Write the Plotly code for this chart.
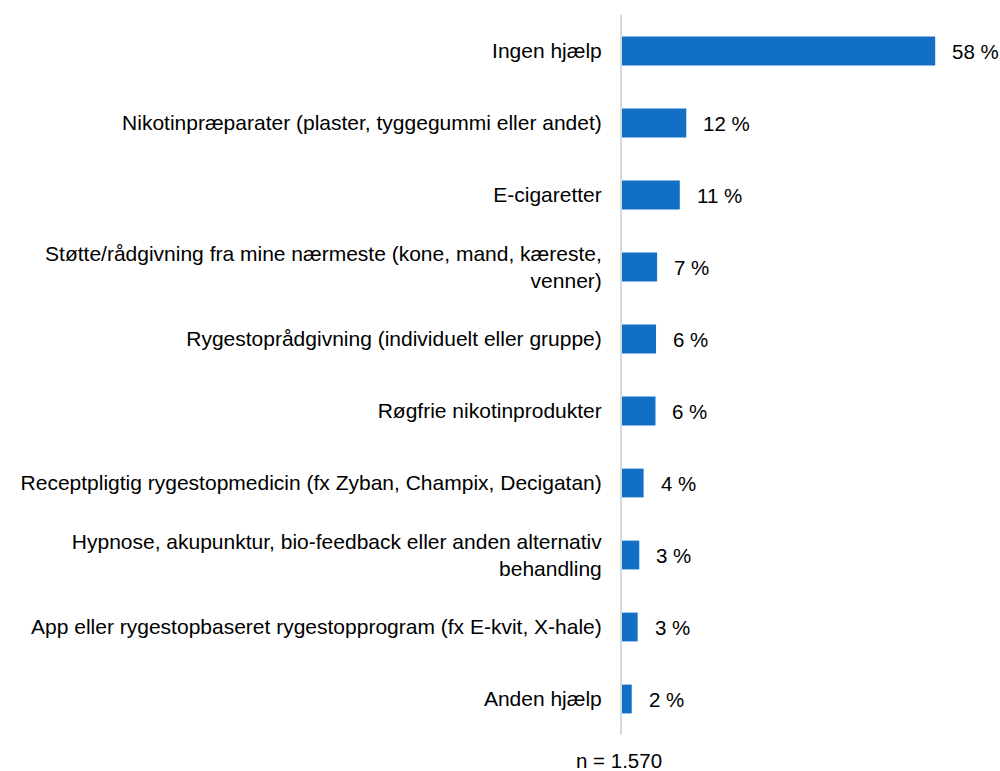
import plotly.graph_objects as go

categories = [
    "Ingen hjælp",
    "Nikotinpræparater (plaster, tyggegummi eller andet)",
    "E-cigaretter",
    "Støtte/rådgivning fra mine nærmeste (kone, mand, kæreste,<br>venner)",
    "Rygestoprådgivning (individuelt eller gruppe)",
    "Røgfrie nikotinprodukter",
    "Receptpligtig rygestopmedicin (fx Zyban, Champix, Decigatan)",
    "Hypnose, akupunktur, bio-feedback eller anden alternativ<br>behandling",
    "App eller rygestopbaseret rygestopprogram (fx E-kvit, X-hale)",
    "Anden hjælp",
]
values = [58.0, 11.9, 10.7, 6.5, 6.3, 6.2, 4.0, 3.2, 2.9, 1.8]
labels = ["58 %", "12 %", "11 %", "7 %", "6 %", "6 %", "4 %", "3 %", "3 %", "2 %"]
note = "n = 1.570"

FONT = "Liberation Sans, Arial, sans-serif"
FS = 21
FS_VAL = 20.5

fig = go.Figure(
    go.Bar(
        x=values,
        y=categories,
        orientation="h",
        marker=dict(color="#1170C6", line=dict(width=0)),
        width=0.4,
        hoverinfo="skip",
    )
)

for v, c, t in zip(values, categories, labels):
    fig.add_annotation(
        x=v, y=c, text=t, xanchor="left", yanchor="middle",
        xshift=15, showarrow=False,
        font=dict(family=FONT, size=FS_VAL, color="#000000"),
    )

fig.add_annotation(
    x=-0.007, y=-0.036, xref="paper", yref="paper", text=note,
    xanchor="center", yanchor="middle", showarrow=False,
    font=dict(family=FONT, size=FS_VAL, color="#000000"),
)

fig.update_layout(
    width=1000, height=771,
    margin=dict(l=622, r=0, t=15, b=36),
    paper_bgcolor="white", plot_bgcolor="white",
    showlegend=False,
    font=dict(family=FONT, size=FS, color="#000000"),
    xaxis=dict(range=[0, 70], showgrid=False, zeroline=False, showticklabels=False,
               showline=False, ticks=""),
    yaxis=dict(autorange="reversed", showgrid=False, zeroline=False, ticks="",
               showline=True, linecolor="#D9D9D9", linewidth=2,
               ticklabelstandoff=14,
               tickfont=dict(family=FONT, size=FS, color="#000000")),
)

fig.write_html(
    "out.html",
    config={"displayModeBar": False},
    post_script="document.body.style.margin='0';document.body.style.overflow='hidden';",
)
